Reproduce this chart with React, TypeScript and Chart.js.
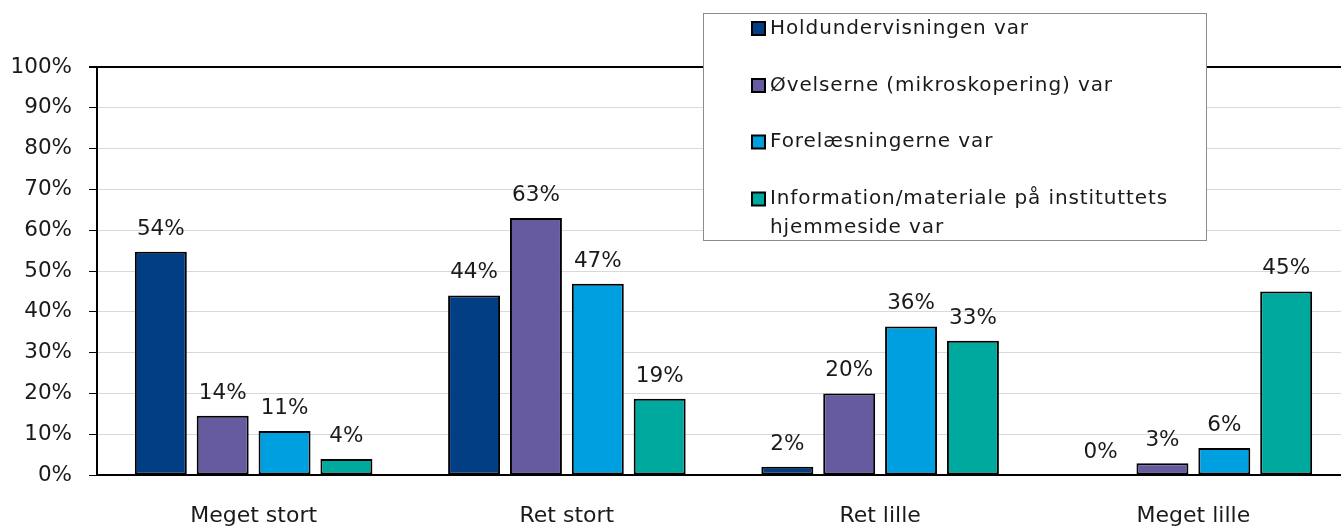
import React, { useEffect, useRef } from "react";
import { Chart, registerables } from "chart.js";

Chart.register(...registerables);

const categories = ["Meget stort", "Ret stort", "Ret lille", "Meget lille"];
const seriesNames = [
  "Holdundervisningen var",
  "Øvelserne (mikroskopering) var",
  "Forelæsningerne var",
  "Information/materiale på instituttets hjemmeside var",
];
const legendLines = [
  ["Holdundervisningen var"],
  ["Øvelserne (mikroskopering) var"],
  ["Forelæsningerne var"],
  ["Information/materiale på instituttets", "hjemmeside var"],
];
const holdValues = [54.7, 44, 2, 0];
const ovelserValues = [14.5, 63, 20, 2.9];
const forelaesValues = [10.8, 46.9, 36.4, 6.6];
const infoValues = [3.9, 18.7, 32.9, 45];
const holdLabels = ["54%", "44%", "2%", "0%"];
const ovelserLabels = ["14%", "63%", "20%", "3%"];
const forelaesLabels = ["11%", "47%", "36%", "6%"];
const infoLabels = ["4%", "19%", "33%", "45%"];
const colors = ["#023E84", "#675BA0", "#009FE0", "#00A99D"];
const yTicks = [0, 10, 20, 30, 40, 50, 60, 70, 80, 90, 100];

const FONT = "'DejaVu Sans', sans-serif";

const dataLabelPlugin = {
  id: "dataLabels",
  afterDatasetsDraw(chart: any) {
    const ctx = chart.ctx;
    const labelSets = [holdLabels, ovelserLabels, forelaesLabels, infoLabels];
    ctx.save();
    ctx.font = `21.5px ${FONT}`;
    ctx.fillStyle = "#1a1a1a";
    ctx.textAlign = "center";
    ctx.textBaseline = "alphabetic";
    chart.data.datasets.forEach((ds: any, i: number) => {
      const meta = chart.getDatasetMeta(i);
      meta.data.forEach((bar: any, j: number) => {
        ctx.fillText(labelSets[i][j], bar.x, bar.y - 17);
      });
    });
    ctx.restore();
  },
};

const legendPlugin = {
  id: "boxLegend",
  afterDraw(chart: any) {
    const ctx = chart.ctx;
    ctx.save();
    const bx = 703.5, by = 13.5, bw = 503, bh = 227;
    ctx.fillStyle = "#ffffff";
    ctx.fillRect(bx, by, bw, bh);
    ctx.strokeStyle = "#8c8c8c";
    ctx.lineWidth = 1;
    ctx.strokeRect(bx, by, bw, bh);
    ctx.font = `20px ${FONT}`;
    (ctx as any).letterSpacing = "0.9px";
    ctx.textAlign = "left";
    ctx.textBaseline = "middle";
    const rows = [28.5, 85.5, 142, 199];
    legendLines.forEach((lines, i) => {
      const y = rows[i];
      ctx.fillStyle = colors[i];
      ctx.fillRect(752, y - 6.5, 13, 13);
      ctx.strokeStyle = "#000";
      ctx.lineWidth = 2;
      ctx.strokeRect(752, y - 6.5, 13, 13);
      ctx.fillStyle = "#1a1a1a";
      lines.forEach((t, k) => ctx.fillText(t, 770, y + k * 29));
    });
    ctx.restore();
  },
};

export default function App() {
  const ref = useRef<HTMLCanvasElement | null>(null);
  useEffect(() => {
    document.body.style.margin = "0";
    const valueSets = [holdValues, ovelserValues, forelaesValues, infoValues];
    const chart = new Chart(ref.current!, {
      type: "bar",
      data: {
        labels: categories,
        datasets: seriesNames.map((name, i) => ({
          label: name,
          data: valueSets[i],
          backgroundColor: colors[i],
          borderColor: "#000",
          borderWidth: 2,
          borderSkipped: false,
          categoryPercentage: 0.79,
          barPercentage: 0.84,
        })),
      },
      options: {
        animation: false,
        responsive: false,
        maintainAspectRatio: false,
        layout: { padding: { top: 67, right: 0, left: 0, bottom: 0 } },
        plugins: {
          legend: { display: false },
          tooltip: { enabled: false },
        },
        scales: {
          x: {
            grid: { display: false, drawTicks: false },
            border: { display: true, color: "#000", width: 2 },
            ticks: {
              color: "#1a1a1a",
              font: { family: FONT, size: 22 },
              padding: 28,
            },
            afterFit(scale: any) {
              scale.height = 53;
            },
          },
          y: {
            min: 0,
            max: 100,
            afterBuildTicks(scale: any) {
              scale.ticks = yTicks.map((v) => ({ value: v }));
            },
            grid: {
              color: (c: any) => (c.tick && c.tick.value === 100 ? "#000" : "#d9d9d9"),
              lineWidth: (c: any) => (c.tick && c.tick.value === 100 ? 2 : 1),
              tickColor: "#000",
              tickLength: 8,
            },
            border: { display: true, color: "#000", width: 2 },
            ticks: {
              color: "#1a1a1a",
              font: { family: FONT, size: 21.5 },
              padding: 17,
              callback: (v: any) => `${v}%`,
            },
            afterFit(scale: any) {
              scale.width = 97;
            },
          },
        },
      },
      plugins: [dataLabelPlugin, legendPlugin],
    });
    return () => chart.destroy();
  }, []);
  return (
    <div style={{ width: 1341, height: 528, overflow: "hidden" }}>
      <canvas ref={ref} width={1350} height={528} style={{ display: "block" }} />
    </div>
  );
}
